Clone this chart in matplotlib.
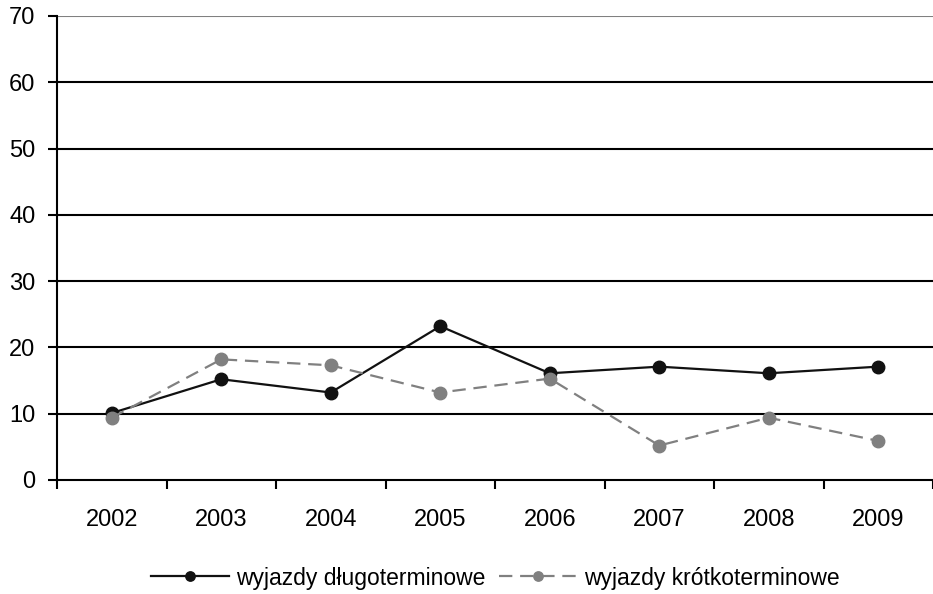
import matplotlib.pyplot as plt
from matplotlib.ticker import FixedLocator

# data
years = ['2002', '2003', '2004', '2005', '2006', '2007', '2008', '2009']
dlugo = [10.1, 15.2, 13.2, 23.2, 16.1, 17.1, 16.1, 17.1]
krotko = [9.4, 18.2, 17.3, 13.2, 15.3, 5.2, 9.4, 5.9]
label_dlugo = 'wyjazdy długoterminowe'
label_krotko = 'wyjazdy krótkoterminowe'

plt.rcParams['font.family'] = ['Liberation Sans', 'DejaVu Sans']
plt.rcParams['font.size'] = 17

fig = plt.figure(figsize=(9.33, 5.94), dpi=100)
ax = fig.add_axes([57 / 933, 1 - 480 / 594, 876 / 933, 464 / 594])

x = list(range(len(years)))
ax.plot(x, dlugo, color='#111111', lw=1.6, marker='o', markersize=9,
        label=label_dlugo)
ax.plot(x, krotko, color='#808080', lw=1.6, marker='o', markersize=9,
        dashes=(6, 3.5), label=label_krotko)

ax.set_xlim(-0.5, 7.5)
ax.set_ylim(0, 70)
ax.set_yticks(range(0, 71, 10))
ax.set_xticks(x)
ax.set_xticklabels(years)
ax.xaxis.set_minor_locator(FixedLocator([i - 0.5 for i in range(len(years) + 1)]))
ax.tick_params(axis='x', which='major', length=0, pad=21)
ax.tick_params(axis='x', which='minor', length=6.5, width=1.5, direction='out')
ax.tick_params(axis='y', length=6.5, width=1.5, pad=9)

for v in range(10, 70, 10):
    ax.axhline(v, color='black', lw=1.5, zorder=0)
ax.axhline(70, color='#808080', lw=1.5, zorder=0)

for s in ['top', 'right']:
    ax.spines[s].set_visible(False)
ax.spines['left'].set_linewidth(1.5)
ax.spines['bottom'].set_linewidth(1.5)

fig.legend(loc='center', bbox_to_anchor=(495 / 933, 1 - 578 / 594), ncol=2,
           frameon=False, fontsize=16.5, handlelength=3.4, handletextpad=0.3,
           columnspacing=0.6, markerscale=0.75)

fig.savefig('out.png', dpi=100)
